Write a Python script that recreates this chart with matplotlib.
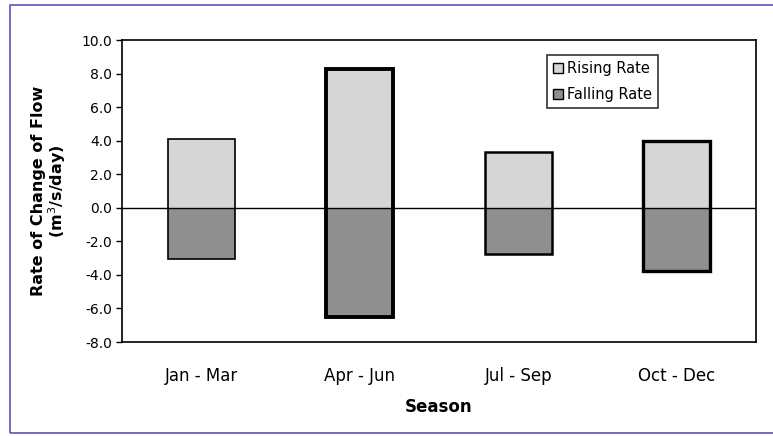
import numpy as np
import matplotlib.pyplot as plt
from matplotlib.patches import Rectangle, Patch

seasons = ["Jan - Mar", "Apr - Jun", "Jul - Sep", "Oct - Dec"]
rising = [4.1, 8.3, 3.3, 4.0]
falling = [-3.05, -6.5, -2.75, -3.75]
edge_widths = [1.2, 2.8, 1.8, 2.4]

plt.rcParams['font.family'] = ['DejaVu Sans']

fig = plt.figure(figsize=(7.73, 4.36), dpi=100)
fig.patches.append(Rectangle((10/773, 3/436), 770/773, 428/436, transform=fig.transFigure,
                             fill=False, edgecolor='#5a55b8', linewidth=1.2))
ax = fig.add_axes([122/773, 1 - 342/436, 634/773, 302/436])

x = np.arange(len(seasons))
rise_c = '#d6d6d6'
fall_c = '#8f8f8f'
ax.bar(x, rising, width=0.42, color=rise_c, linewidth=0)
ax.bar(x, falling, width=0.42, color=fall_c, linewidth=0)
ax.axhline(0, color='black', linewidth=1)
# outline of each bar from falling to rising value
ax.bar(x, np.array(rising) - np.array(falling), bottom=falling, width=0.42, fill=False,
       edgecolor='black', linewidth=edge_widths, zorder=3)

ax.set_xlim(-0.5, 3.5)
ax.set_ylim(-8, 10)
ax.set_yticks(np.arange(-8, 10.1, 2))
ax.set_yticklabels(["%.1f" % v for v in np.arange(-8, 10.1, 2)], fontsize=10)
ax.set_xticks(x)
ax.set_xticklabels(seasons, fontsize=12)
ax.tick_params(axis='x', length=0, pad=18)
ax.tick_params(axis='y', length=4, width=1, direction='out', pad=3)
for s in ax.spines.values():
    s.set_linewidth(1.2)

ax.set_xlabel("Season", fontsize=12, fontweight='bold', labelpad=9)
ax.set_ylabel("Rate of Change of Flow\n(m$^3$/s/day)", fontsize=11.5, fontweight='bold', labelpad=10,
              linespacing=1.0)

handles = [Patch(facecolor=rise_c, edgecolor='black', linewidth=1, label='Rising Rate'),
           Patch(facecolor=fall_c, edgecolor='black', linewidth=1, label='Falling Rate')]
leg = ax.legend(handles=handles, loc='upper left', bbox_to_anchor=(0.67, 0.95), fontsize=10.5, frameon=True,
                fancybox=False, handlelength=0.7, handleheight=0.7, handletextpad=0.3, borderpad=0.4,
                labelspacing=0.75, borderaxespad=0)
leg.get_frame().set_edgecolor('black')
leg.get_frame().set_linewidth(1.2)

plt.savefig('out.png', dpi=100)
